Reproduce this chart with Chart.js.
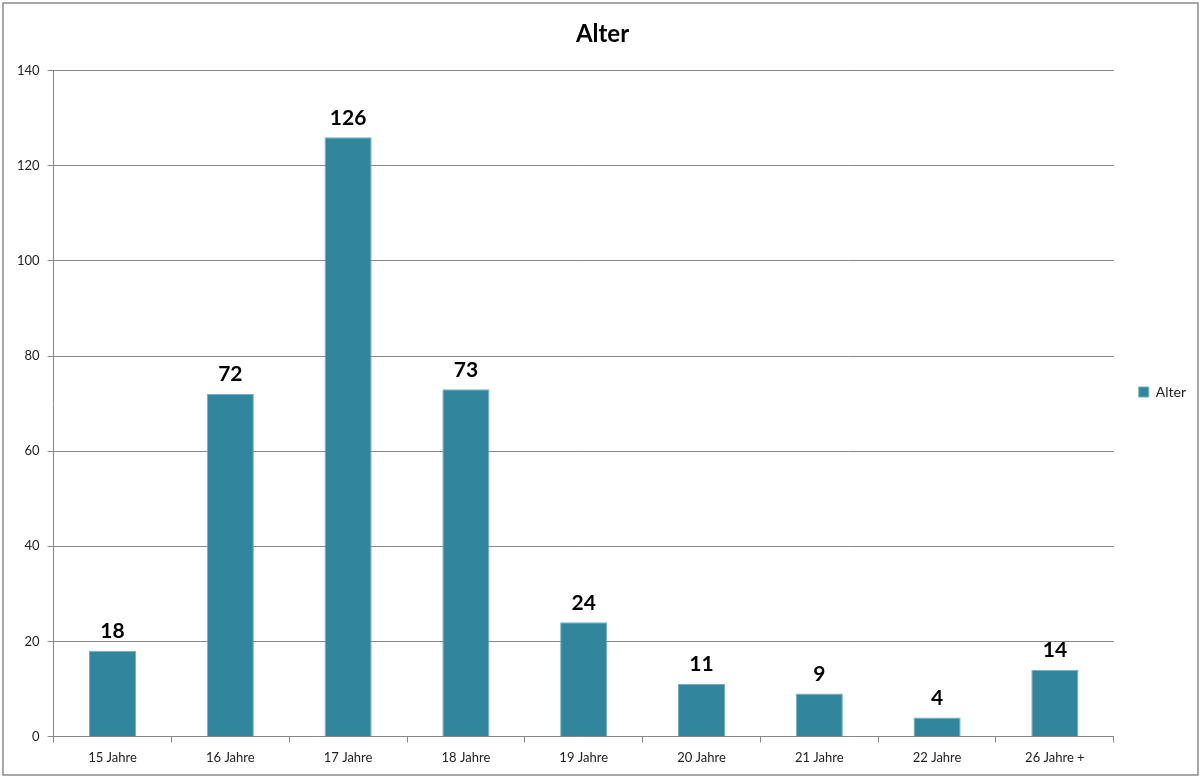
<!DOCTYPE html>
<html>
<head>
<meta charset="utf-8">
<script src="https://cdn.jsdelivr.net/npm/chart.js@4"></script>
<style>
  html, body { margin: 0; padding: 0; background: #fff; }
  #wrap { width: 1201px; height: 778px; }
</style>
</head>
<body>
<div id="wrap"><canvas id="myChart" width="1201" height="778"></canvas></div>
<script>
var kategorien = ['15 Jahre', '16 Jahre', '17 Jahre', '18 Jahre', '19 Jahre', '20 Jahre', '21 Jahre', '22 Jahre', '26 Jahre +'];
var anzahl = [18, 72, 126, 73, 24, 11, 9, 4, 14];
var serienName = 'Alter';
var achseMax = 140;
var achseSchritt = 20;

var schrift = "Lato, 'Open Sans', sans-serif";

// Rahmen um das ganze Diagramm
var rahmen = {
	id: 'rahmen',
	beforeDraw: (chart) => {
		var ctx = chart.ctx;
		ctx.save();
		ctx.fillStyle = '#fff';
		ctx.fillRect(0, 0, chart.width, chart.height);
		ctx.strokeStyle = '#8c8c8c';
		ctx.lineWidth = 1.5;
		ctx.strokeRect(3, 3, chart.width - 6, chart.height - 6);
		ctx.restore();
	}
};

// Werte über den Balken
var werte = {
	id: 'werte',
	afterDatasetsDraw: (chart) => {
		var ctx = chart.ctx;
		var meta = chart.getDatasetMeta(0);
		ctx.save();
		ctx.font = 'bold 21px ' + schrift;
		ctx.fillStyle = '#000';
		ctx.textAlign = 'center';
		ctx.textBaseline = 'bottom';
		meta.data.forEach((bar, i) => {
			ctx.fillText(chart.data.datasets[0].data[i], bar.x, bar.y - 9);
		});
		ctx.restore();
	}
};

var ctx = document.getElementById('myChart').getContext('2d');
var chart = new Chart(ctx, {
	type: 'bar',
	data: {
		labels: kategorien,
		datasets: [{
			label: serienName,
			data: anzahl,
			backgroundColor: '#31859c',
			borderColor: '#6fb0c2',
			borderWidth: 1,
			barPercentage: 0.8,
			categoryPercentage: 0.5
		}]
	},
	options: {
		responsive: false,
		animation: false,
		layout: { padding: { left: 9, right: 5, top: 10, bottom: 4 } },
		plugins: {
			title: {
				display: true,
				text: 'Alter',
				color: '#000',
				font: { family: schrift, size: 24, weight: 'bold' },
				padding: { top: 10, bottom: 22 }
			},
			legend: {
				position: 'right',
				labels: {
					boxWidth: 10,
					boxHeight: 10,
					padding: 25,
					color: '#222',
					font: { family: schrift, size: 14 }
				}
			},
			tooltip: { enabled: false }
		},
		scales: {
			x: {
				grid: {
					offset: true,
					drawOnChartArea: false,
					drawTicks: true,
					tickLength: 6,
					color: '#888'
				},
				border: { color: '#888', width: 1 },
				ticks: {
					color: '#222',
					padding: 8,
					font: { family: schrift, size: 13 }
				}
			},
			y: {
				min: 0,
				max: achseMax,
				ticks: {
					stepSize: achseSchritt,
					color: '#222',
					padding: 8,
					font: { family: schrift, size: 13 }
				},
				grid: {
					color: '#888',
					tickLength: 6
				},
				border: { color: '#888', width: 1 }
			}
		}
	},
	plugins: [rahmen, werte]
});
</script>
</body>
</html>
